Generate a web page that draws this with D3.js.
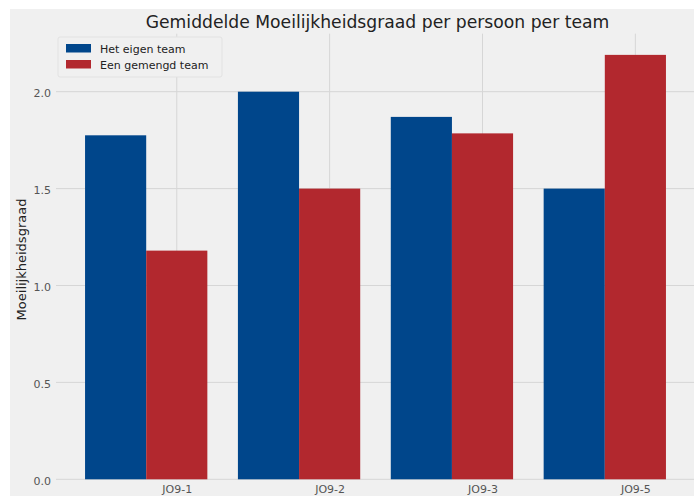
<!DOCTYPE html>
<html><head><meta charset="utf-8">
<script src="https://cdn.jsdelivr.net/npm/d3@7"></script>
<style>html,body{margin:0;padding:0;background:#fff;}svg{display:block;}</style>
</head><body>
<script>
const categories = ["JO9-1", "JO9-2", "JO9-3", "JO9-5"];
const seriesNames = ["Het eigen team", "Een gemengd team"];
const eigenTeam = [1.775, 2.0, 1.87, 1.5];
const gemengdTeam = [1.18, 1.5, 1.785, 2.19];
const yTicks = [0.0, 0.5, 1.0, 1.5, 2.0];
const colors = ["#00468b", "#b2282e"];

const W = 694, H = 496;
const svg = d3.select("body").append("svg").attr("width", W).attr("height", H);
svg.append("rect").attr("x", 10).attr("y", 9).attr("width", W - 10).attr("height", H - 9).attr("fill", "#f0f0f0");

const barW = 0.4;
const xs = categories.map((c, i) => i);
const xMin = -barW / 2, xMax = (categories.length - 1) + barW * 1.5;
const xPad = (xMax - xMin) * 0.05;
const x = d3.scaleLinear().domain([xMin - xPad, xMax + xPad]).range([56, 695]);
const yMaxData = d3.max(eigenTeam.concat(gemengdTeam));
const y = d3.scaleLinear().domain([0, yMaxData * 1.05]).range([479.3, 479.3 - yMaxData * 1.05 * 193.8]);

const font = "DejaVu Sans, sans-serif";
// grid
const g = svg.append("g");
g.selectAll(".hg").data(yTicks).join("line")
  .attr("x1", x.range()[0]).attr("x2", x.range()[1])
  .attr("y1", d => y(d)).attr("y2", d => y(d))
  .attr("stroke", "#d6d6d6").attr("stroke-width", 1);
g.selectAll(".vg").data(xs).join("line")
  .attr("x1", d => x(d + barW)).attr("x2", d => x(d + barW))
  .attr("y1", y.range()[0]).attr("y2", y.range()[1])
  .attr("stroke", "#d6d6d6").attr("stroke-width", 1);

// bars
const series = [eigenTeam, gemengdTeam];
series.forEach((vals, s) => {
  svg.append("g").selectAll("rect").data(vals).join("rect")
    .attr("x", (d, i) => x(i - barW / 2 + s * barW))
    .attr("width", (d, i) => x(i + barW / 2 + s * barW) - x(i - barW / 2 + s * barW))
    .attr("y", d => y(d))
    .attr("height", d => y(0) - y(d))
    .attr("fill", colors[s]);
});

// y axis labels
const yAxis = d3.axisLeft(y).tickValues(yTicks).tickFormat(d3.format(".1f")).tickSize(0).tickPadding(5);
const ya = svg.append("g").attr("transform", `translate(${x.range()[0] - 0},0)`).call(yAxis);
ya.select(".domain").remove();
ya.selectAll("text").attr("font-family", font).attr("font-size", 11).attr("fill", "#555").attr("dy", "0.45em");

// x axis labels
const xAxis = d3.axisBottom(d3.scaleOrdinal().domain(categories).range(xs.map(i => x(i + barW))))
  .tickSize(0).tickPadding(6);
const xa = svg.append("g").attr("transform", `translate(0,${y(0)})`).call(xAxis);
xa.select(".domain").remove();
xa.selectAll("text").attr("font-family", font).attr("font-size", 11).attr("fill", "#555");

// y label
svg.append("text").attr("transform", `translate(26,${(y.range()[0] + y.range()[1]) / 2 + 3}) rotate(-90)`)
  .attr("text-anchor", "middle").attr("font-family", font).attr("font-size", 13).attr("fill", "#222")
  .text("Moeilijkheidsgraad");

// title
svg.append("text").attr("x", (x.range()[0] + x.range()[1]) / 2 + 2).attr("y", 28)
  .attr("text-anchor", "middle").attr("font-family", font).attr("font-size", 17.2).attr("fill", "#222")
  .text("Gemiddelde Moeilijkheidsgraad per persoon per team");

// legend
const lg = svg.append("g");
lg.append("rect").attr("x", 58).attr("y", 37).attr("width", 164).attr("height", 40)
  .attr("fill", "#f0f0f0").attr("stroke", "#e2e2e2").attr("stroke-width", 1).attr("rx", 2);
seriesNames.forEach((n, i) => {
  lg.append("rect").attr("x", 66).attr("y", 44 + i * 16).attr("width", 25).attr("height", 8.5).attr("fill", colors[i]);
  lg.append("text").attr("x", 100).attr("y", 52.5 + i * 16).attr("font-family", font).attr("font-size", 11)
    .attr("fill", "#222").text(n);
});
</script>
</body></html>
